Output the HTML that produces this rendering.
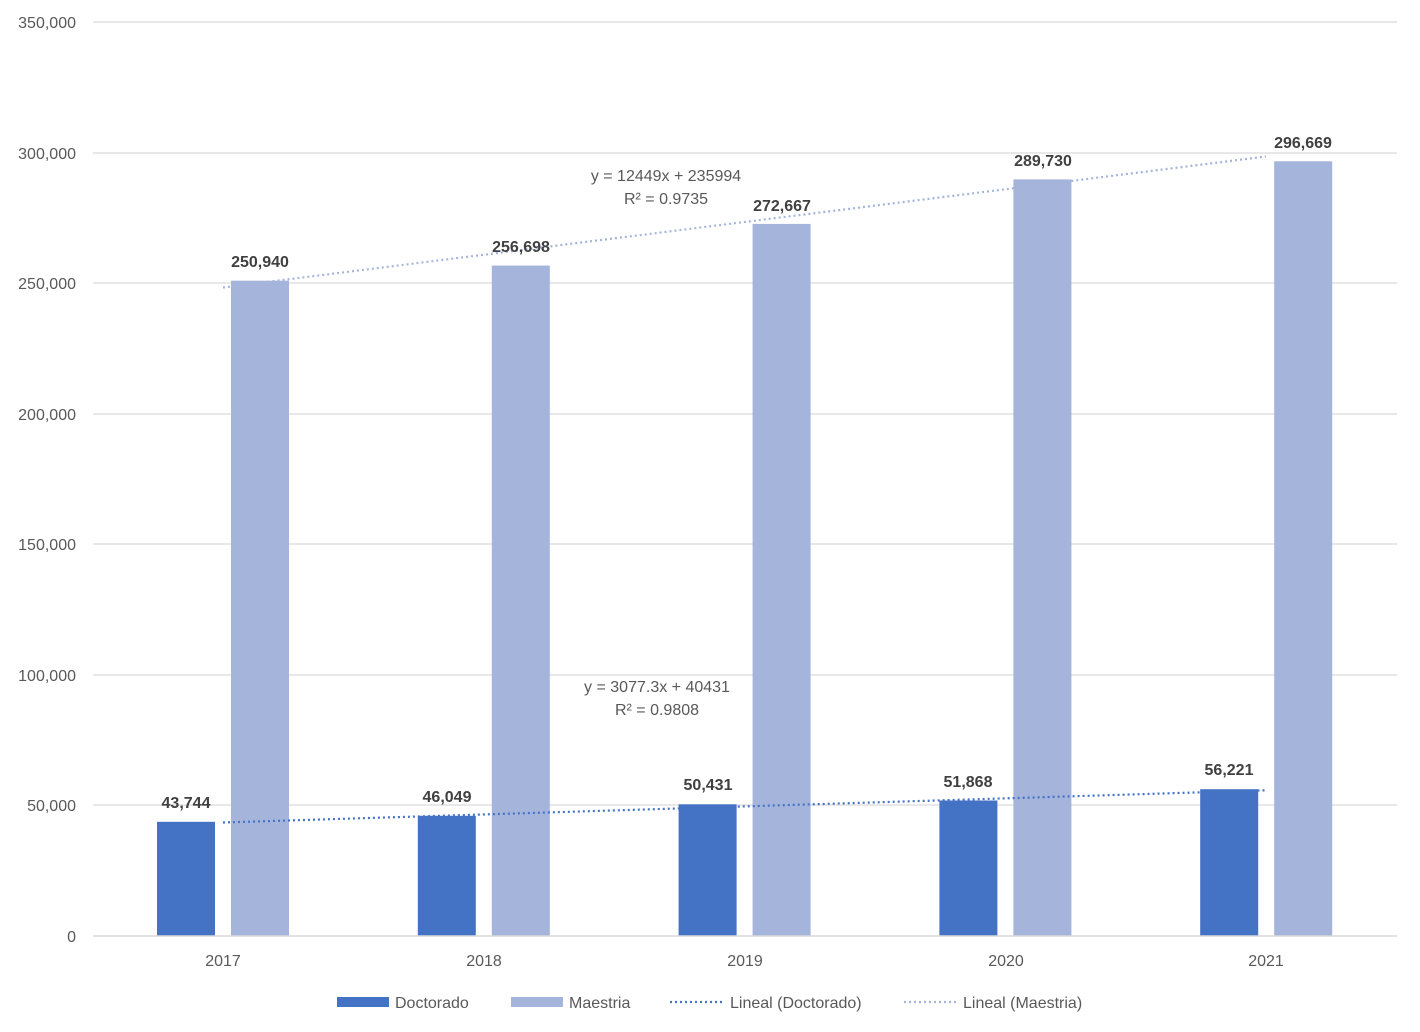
<!DOCTYPE html>
<html><head><meta charset="utf-8"><style>
html,body{margin:0;padding:0;background:#fff;}
svg{display:block;font-family:"Liberation Sans",sans-serif;}
</style></head><body>
<svg width="1420" height="1032" viewBox="0 0 1420 1032" xmlns="http://www.w3.org/2000/svg">
<g stroke="#d9d9d9" stroke-width="1.3">
<line x1="93" y1="22" x2="1397" y2="22"/>
<line x1="93" y1="153" x2="1397" y2="153"/>
<line x1="93" y1="283" x2="1397" y2="283"/>
<line x1="93" y1="414" x2="1397" y2="414"/>
<line x1="93" y1="544" x2="1397" y2="544"/>
<line x1="93" y1="675" x2="1397" y2="675"/>
<line x1="93" y1="805" x2="1397" y2="805"/>
</g>
<g fill="#595959" font-size="16" text-anchor="end">
<text x="76" y="28">350,000</text>
<text x="76" y="159">300,000</text>
<text x="76" y="289">250,000</text>
<text x="76" y="420">200,000</text>
<text x="76" y="550">150,000</text>
<text x="76" y="681">100,000</text>
<text x="76" y="811">50,000</text>
<text x="76" y="942">0</text>
</g>
<g fill="#4472c4">
<rect x="157" y="821.8" width="58" height="114.2"/>
<rect x="417.8" y="815.8" width="58" height="120.2"/>
<rect x="678.6" y="804.3" width="58" height="131.7"/>
<rect x="939.4" y="800.5" width="58" height="135.5"/>
<rect x="1200.2" y="789.2" width="58" height="146.8"/>
</g>
<g fill="#a5b4db">
<rect x="231" y="280.7" width="58" height="655.3"/>
<rect x="491.8" y="265.6" width="58" height="670.4"/>
<rect x="752.6" y="223.9" width="58" height="712.1"/>
<rect x="1013.4" y="179.4" width="58" height="756.6"/>
<rect x="1274.2" y="161.3" width="58" height="774.7"/>
</g>
<line x1="93" y1="936" x2="1397" y2="936" stroke="#d9d9d9" stroke-width="1.5"/>
<line x1="223" y1="287.5" x2="1266" y2="156.5" stroke="#a5b4db" stroke-width="2.2" stroke-dasharray="2,3"/>
<line x1="223" y1="822.5" x2="1266" y2="790.3" stroke="#4472c4" stroke-width="2.2" stroke-dasharray="2,3"/>
<g fill="#404040" font-size="16" font-weight="bold" text-anchor="middle">
<text x="186" y="808">43,744</text>
<text x="447" y="802">46,049</text>
<text x="708" y="790">50,431</text>
<text x="968" y="787">51,868</text>
<text x="1229" y="775">56,221</text>
<text x="260" y="267">250,940</text>
<text x="521" y="252">256,698</text>
<text x="782" y="211">272,667</text>
<text x="1043" y="166">289,730</text>
<text x="1303" y="148">296,669</text>
</g>
<g fill="#595959" font-size="16" text-anchor="middle">
<text x="666" y="181">y = 12449x + 235994</text>
<text x="666" y="204">R² = 0.9735</text>
<text x="657" y="692">y = 3077.3x + 40431</text>
<text x="657" y="715">R² = 0.9808</text>
<text x="223" y="966">2017</text>
<text x="484" y="966">2018</text>
<text x="745" y="966">2019</text>
<text x="1006" y="966">2020</text>
<text x="1266" y="966">2021</text>
</g>
<rect x="337" y="997" width="52" height="10" fill="#4472c4"/>
<rect x="511" y="997" width="52" height="10" fill="#a5b4db"/>
<line x1="670" y1="1002" x2="722" y2="1002" stroke="#4472c4" stroke-width="2.2" stroke-dasharray="2,3"/>
<line x1="904" y1="1002" x2="956" y2="1002" stroke="#a5b4db" stroke-width="2.2" stroke-dasharray="2,3"/>
<g fill="#595959" font-size="16">
<text x="395" y="1008">Doctorado</text>
<text x="569" y="1008">Maestria</text>
<text x="730" y="1008">Lineal (Doctorado)</text>
<text x="963" y="1008">Lineal (Maestria)</text>
</g>
</svg>
</body></html>
